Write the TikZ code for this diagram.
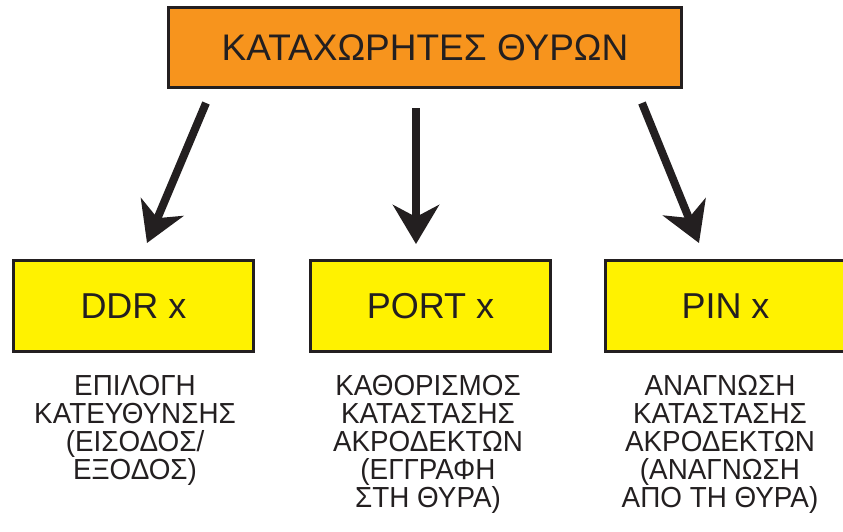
\documentclass[tikz,border=0pt]{standalone}
\usepackage{fontspec}
\setmainfont{Liberation Sans}
\newfontfamily\narrowfont[FakeStretch=0.96]{Liberation Sans}
\usepackage{xcolor}
\usetikzlibrary{arrows.meta}
\definecolor{regorange}{HTML}{F7941D}
\definecolor{regyellow}{HTML}{FFF200}
\definecolor{edgedark}{HTML}{231F20}

\begin{document}
\begin{tikzpicture}[x=1pt, y=-1pt,
  topbox/.style={draw=edgedark, line width=3pt, fill=regorange, minimum width=513pt, minimum height=80pt, inner sep=0pt, font=\fontsize{37}{40}\selectfont, text=edgedark},
  regbox/.style={draw=edgedark, line width=3pt, fill=regyellow, minimum width=240pt, minimum height=91pt, inner sep=0pt, font=\fontsize{36}{40}\selectfont, text=edgedark},
  note/.style={anchor=north, align=center, inner sep=0pt, font=\narrowfont\fontsize{29}{28}\selectfont, text=edgedark},
  bigarrow/.style={line width=8pt, edgedark, -{Stealth[length=39pt, width=46pt, inset=12pt]}}]
 \useasboundingbox (0,0) rectangle (843,531);
 \node [topbox] (ports) at (425, 47.5) {ΚΑΤΑΧΩΡΗΤΕΣ ΘΥΡΩΝ};
 \node [regbox] (ddr) at (133.5, 306) {DDR x};
 \node [regbox] (port) at (430.5, 306) {PORT x};
 \node [regbox] (pin) at (725.5, 306) {PIN x};
 \coordinate (ddrfrom) at (206, 103);
 \coordinate (ddrto) at (147, 243);
 \coordinate (portfrom) at (416, 108);
 \coordinate (portto) at (416, 244);
 \coordinate (pinfrom) at (642, 103);
 \coordinate (pinto) at (699, 243);
 \draw [bigarrow] (ddrfrom) -- (ddrto);
 \draw [bigarrow] (portfrom) -- (portto);
 \draw [bigarrow] (pinfrom) -- (pinto);
 \node [note] (ddrnote) at (135, 375) {ΕΠΙΛΟΓΗ\\ΚΑΤΕΥΘΥΝΣΗΣ\\(ΕΙΣΟΔΟΣ/\\ΕΞΟΔΟΣ)};
 \node [note] (portnote) at (428, 375) {ΚΑΘΟΡΙΣΜΟΣ\\ΚΑΤΑΣΤΑΣΗΣ\\ΑΚΡΟΔΕΚΤΩΝ\\(ΕΓΓΡΑΦΗ\hspace*{22pt}\\ΣΤΗ ΘΥΡΑ)};
 \node [note] (pinnote) at (720, 375) {ΑΝΑΓΝΩΣΗ\\ΚΑΤΑΣΤΑΣΗΣ\\ΑΚΡΟΔΕΚΤΩΝ\\(ΑΝΑΓΝΩΣΗ\\ΑΠΟ ΤΗ ΘΥΡΑ)};
\end{tikzpicture}
\end{document}
